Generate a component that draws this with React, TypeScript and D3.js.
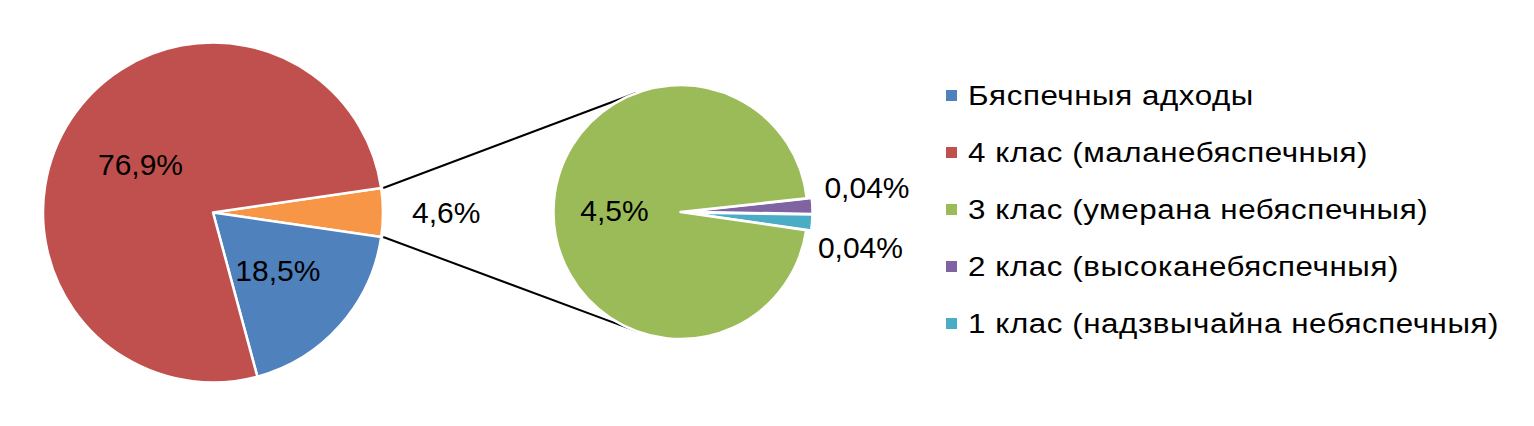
import React from "react";
import * as d3 from "d3";

// ---- data ----
const mainCategories = ["Інш", "Бяспечныя адходы", "4 клас (маланебяспечныя)"];
const mainValues = [4.6, 18.5, 76.9];
const mainLabels = ["4,6%", "18,5%", "76,9%"];

const subCategories = ["2 клас (высоканебяспечныя)", "1 клас (надзвычайна небяспечныя)", "3 клас (умерана небяспечныя)"];
const subValues = [0.094, 0.094, 4.5];
const subLabels = ["0,04%", "0,04%", "4,5%"];

const legendLabels = [
  "Бяспечныя адходы",
  "4 клас (маланебяспечныя)",
  "3 клас (умерана небяспечныя)",
  "2 клас (высоканебяспечныя)",
  "1 клас (надзвычайна небяспечныя)",
];

const colors: Record<string, string> = {
  "Інш": "#F79646",
  "Бяспечныя адходы": "#4F81BD",
  "4 клас (маланебяспечныя)": "#C0504D",
  "3 клас (умерана небяспечныя)": "#9BBB59",
  "2 клас (высоканебяспечныя)": "#8064A2",
  "1 клас (надзвычайна небяспечныя)": "#4BACC6",
};

const W = 1534;
const H = 426;
const FONT = "Liberation Sans, Arial, sans-serif";

export default function App() {
  const deg = Math.PI / 180;
  // main pie
  const c1 = { x: 213, y: 212.5 };
  const r1 = 170;
  const otherHalf = (mainValues[0] / d3.sum(mainValues)) * Math.PI;
  const pie1 = d3
    .pie<number>()
    .sort(null)
    .startAngle(Math.PI / 2 - otherHalf)
    .endAngle(Math.PI / 2 - otherHalf + 2 * Math.PI);
  const arcs1 = pie1(mainValues);
  const arc1 = d3.arc<d3.PieArcDatum<number>>().innerRadius(0).outerRadius(r1);

  // secondary pie
  const c2 = { x: 680.5, y: 212 };
  const r2 = 127;
  const smallTotal = ((subValues[0] + subValues[1]) / d3.sum(subValues)) * 2 * Math.PI;
  const subStart = Math.PI / 2 + 1 * deg - smallTotal / 2;
  const pie2 = d3.pie<number>().sort(null).startAngle(subStart).endAngle(subStart + 2 * Math.PI);
  const arcs2 = pie2(subValues);
  const arc2 = d3.arc<d3.PieArcDatum<number>>().innerRadius(0).outerRadius(r2);
  const explode = [5, 5, 0];

  // connector lines
  const corner = (a: number) => ({ x: c1.x + r1 * Math.sin(a), y: c1.y - r1 * Math.cos(a) });
  const pTop = corner(arcs1[0].startAngle);
  const pBot = corner(arcs1[0].endAngle);
  const tangent = (p: { x: number; y: number }, sign: number) => {
    const dx = p.x - c2.x;
    const dy = p.y - c2.y;
    const d = Math.hypot(dx, dy);
    const base = Math.atan2(dy, dx);
    const off = Math.acos(r2 / d);
    const a = base + sign * off;
    return { x: c2.x + r2 * Math.cos(a), y: c2.y + r2 * Math.sin(a) };
  };
  const tTop = tangent(pTop, 1);
  const tBot = tangent(pBot, -1);

  const labelFont = 30;
  const legendFont = 27;

  const polar = (c: { x: number; y: number }, a: number, r: number) => ({
    x: c.x + r * Math.sin(a),
    y: c.y - r * Math.cos(a),
  });

  return (
    <svg
      width={W}
      height={H}
      style={{ position: "absolute", left: 0, top: 0, background: "#fff" }}
      fontFamily={FONT}
    >
      <rect width={W} height={H} fill="#fff" />
      <g transform={`translate(${c1.x},${c1.y})`}>
        {arcs1.map((a, i) => (
          <path key={i} d={arc1(a) || ""} fill={colors[mainCategories[i]]} stroke="#fff" strokeWidth={2.5} strokeLinejoin="round" />
        ))}
      </g>
      <line x1={pTop.x + 2} y1={pTop.y} x2={tTop.x} y2={tTop.y} stroke="#000" strokeWidth={2} />
      <line x1={pBot.x + 2} y1={pBot.y} x2={tBot.x} y2={tBot.y} stroke="#000" strokeWidth={2} />
      <g transform={`translate(${c2.x},${c2.y})`}>
        {arcs2.map((a, i) => {
          const m = (a.startAngle + a.endAngle) / 2;
          const ox = explode[i] * Math.sin(m);
          const oy = -explode[i] * Math.cos(m);
          return (
            <path
              key={i}
              transform={`translate(${ox},${oy})`}
              d={arc2(a) || ""}
              fill={colors[subCategories[i]]}
              stroke="#fff"
              strokeWidth={2.5}
              strokeLinejoin="round"
            />
          );
        })}
      </g>
      {arcs1.map((a, i) => {
        const m = (a.startAngle + a.endAngle) / 2;
        if (i === 0) {
          const p = polar(c1, m, r1 + 29);
          return (
            <text key={i} x={p.x} y={p.y} dy="0.35em" fontSize={labelFont} textAnchor="start" fill="#000">
              {mainLabels[i]}
            </text>
          );
        }
        const p = polar(c1, m, r1 * 0.51);
        return (
          <text key={i} x={p.x} y={p.y} dy="0.35em" fontSize={labelFont} textAnchor="middle" fill="#000">
            {mainLabels[i]}
          </text>
        );
      })}
      {arcs2.map((a, i) => {
        const m = (a.startAngle + a.endAngle) / 2;
        if (i === 2) {
          const p = polar(c2, m, r2 * 0.52);
          return (
            <text key={i} x={p.x} y={p.y} dy="0.35em" fontSize={labelFont} textAnchor="middle" fill="#000">
              {subLabels[i]}
            </text>
          );
        }
        const spread = i === 0 ? -7 * deg : 10 * deg;
        const rr = i === 0 ? r2 + 19 : r2 + 15;
        const p = polar(c2, m + spread, rr);
        return (
          <text key={i} x={p.x} y={p.y} dy="0.35em" fontSize={labelFont} textAnchor="start" fill="#000">
            {subLabels[i]}
          </text>
        );
      })}
      {legendLabels.map((l, i) => {
        const y = 95.5 + i * 57;
        return (
          <g key={l}>
            <rect x={946} y={y - 5.5} width={11} height={11} fill={colors[l]} />
            <text
              transform={`translate(968,${y}) scale(1.16,1)`}
              dy="0.35em"
              fontSize={legendFont}
              letterSpacing={0.5}
              fill="#000"
            >
              {l}
            </text>
          </g>
        );
      })}
    </svg>
  );
}
